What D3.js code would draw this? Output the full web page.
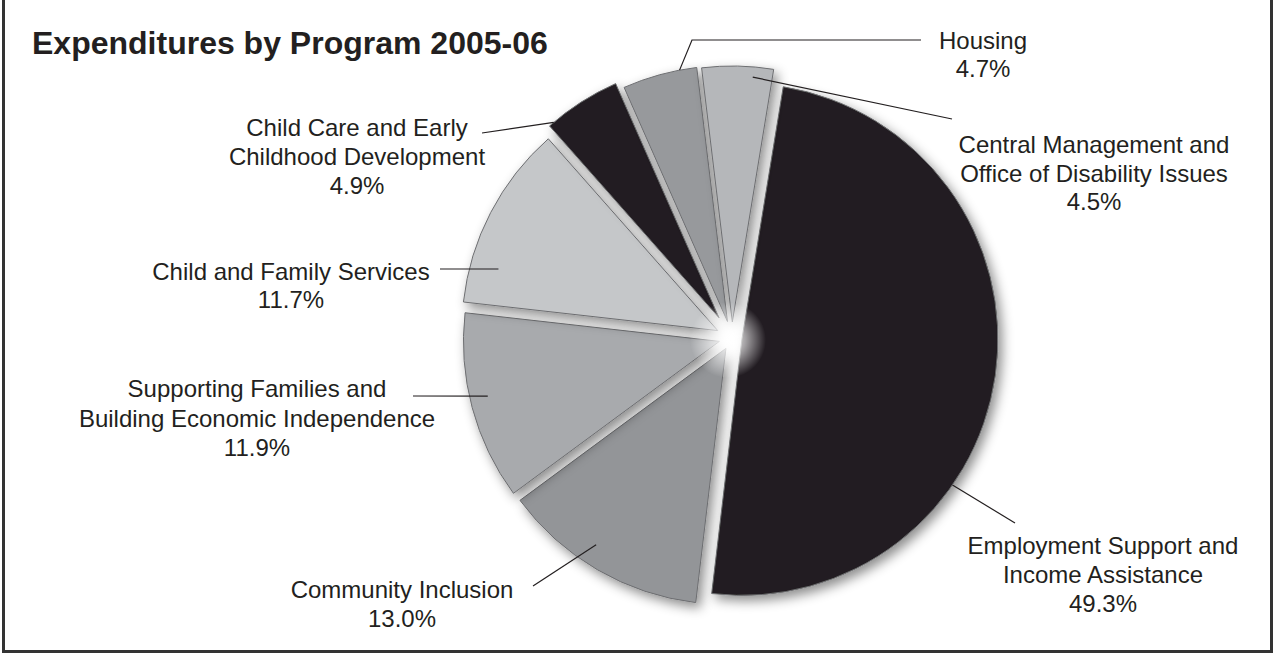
<!DOCTYPE html>
<html>
<head>
<meta charset="utf-8">
<script src="https://cdn.jsdelivr.net/npm/d3@7"></script>
<style>
  body { margin: 0; background: #fff; }
  svg { display: block; }
  text { font-family: "Liberation Sans", Arial, sans-serif; fill: #231f20; }
</style>
</head>
<body>
<div class="chart"></div>
<script>
// data, clockwise from the top
var programs = [
  ["Employment Support and", "Income Assistance"],
  ["Community Inclusion"],
  ["Supporting Families and", "Building Economic Independence"],
  ["Child and Family Services"],
  ["Child Care and Early", "Childhood Development"],
  ["Housing"],
  ["Central Management and", "Office of Disability Issues"]
];
var shares = [49.3, 13.0, 11.9, 11.7, 4.9, 4.7, 4.5];
var shareLabels = ["49.3%", "13.0%", "11.9%", "11.7%", "4.9%", "4.7%", "4.5%"];

// look of each slice
var fills = ["#231f20", "#939598", "#a8aaad", "#c5c7c9", "#231f20", "#97999c", "#b5b7ba"];
var explode = [10, 12, 13, 16, 24, 17, 16];

// label placement: text anchor, first baseline, line height,
// leader start (fraction along slice angle, fraction of radius), leader path
var labelLayout = [
  { x: 1103, y: 554, lh: 29,   t: 0.65, rf: 1.0,  path: [[1015, 523]] },
  { x: 402,  y: 598, lh: 29,   t: 0.57, rf: 0.92, path: [[533, 586]] },
  { x: 257,  y: 397, lh: 29.5, t: 0.54, rf: 0.93, path: [[413, 396]] },
  { x: 291,  y: 280, lh: 28,   t: 0.22, rf: 0.89, path: [[440, 269]] },
  { x: 357,  y: 136, lh: 29,   t: 0.07, rf: 1.0,  path: [[482, 133]] },
  { x: 983,  y: 49,  lh: 28,   t: 0.77, rf: 1.0,  path: [[692, 40], [921, 40]] },
  { x: 1094, y: 153, lh: 28.5, t: 0.72, rf: 0.96, path: [[952, 119]] }
];

var width = 1277, height = 655;
var cx = 732, cy = 338, radius = 256;
var startDeg = 9.3;

var svg = d3.select(".chart").append("svg")
    .attr("width", width)
    .attr("height", height);

var defs = svg.append("defs");

var shadow = defs.append("filter")
    .attr("id", "shadow")
    .attr("x", "-20%").attr("y", "-20%")
    .attr("width", "140%").attr("height", "140%");
shadow.append("feDropShadow")
    .attr("dx", 4).attr("dy", 5)
    .attr("stdDeviation", 6)
    .attr("flood-color", "#000")
    .attr("flood-opacity", 0.45);

var glow = defs.append("radialGradient").attr("id", "glow");
glow.append("stop").attr("offset", "0%").attr("stop-color", "#fff").attr("stop-opacity", 1);
glow.append("stop").attr("offset", "45%").attr("stop-color", "#fff").attr("stop-opacity", 0.6);
glow.append("stop").attr("offset", "100%").attr("stop-color", "#fff").attr("stop-opacity", 0);

// frame
svg.append("rect")
    .attr("x", 3.5)
    .attr("y", -10)
    .attr("width", 1268)
    .attr("height", 661.5)
    .attr("fill", "none")
    .attr("stroke", "#333")
    .attr("stroke-width", 3);

// title
svg.append("text")
    .attr("x", 32)
    .attr("y", 54)
    .style("font-size", "32px")
    .style("font-weight", "bold")
    .text("Expenditures by Program 2005-06");

var pie = d3.pie()
    .sort(null)
    .startAngle(startDeg * Math.PI / 180)
    .endAngle((startDeg + 360) * Math.PI / 180);

var arcs = pie(shares);

var arc = d3.arc()
    .innerRadius(0)
    .outerRadius(radius);

function offsetOf(d, i) {
  var mid = (d.startAngle + d.endAngle) / 2;
  return d3.pointRadial(mid, explode[i]);
}

var pieG = svg.append("g")
    .attr("transform", "translate(" + cx + "," + cy + ")");

pieG.selectAll("path.slice")
    .data(arcs)
    .enter().append("path")
    .attr("class", "slice")
    .attr("transform", function (d, i) {
      var o = offsetOf(d, i);
      return "translate(" + o[0] + "," + o[1] + ")";
    })
    .attr("d", arc)
    .attr("fill", function (d, i) { return fills[i]; })
    .attr("stroke", "#6d6e71")
    .attr("stroke-width", 1)
    .attr("stroke-linejoin", "round")
    .attr("filter", "url(#shadow)");

// white glow where the slices meet
pieG.append("circle")
    .attr("cx", -4)
    .attr("cy", 2)
    .attr("r", 38)
    .attr("fill", "url(#glow)");

// leader lines
var line = d3.line();
arcs.forEach(function (d, i) {
  var lay = labelLayout[i];
  var o = offsetOf(d, i);
  var a = d.startAngle + lay.t * (d.endAngle - d.startAngle);
  var p = d3.pointRadial(a, radius * lay.rf);
  var pts = [[cx + o[0] + p[0], cy + o[1] + p[1]]].concat(lay.path);
  svg.append("path")
      .attr("d", line(pts))
      .attr("fill", "none")
      .attr("stroke", "#231f20")
      .attr("stroke-width", 1.2);
});

// labels
arcs.forEach(function (d, i) {
  var lay = labelLayout[i];
  var lines = programs[i].concat([shareLabels[i]]);
  var t = svg.append("text")
      .attr("text-anchor", "middle")
      .style("font-size", "24px");
  lines.forEach(function (s, k) {
    t.append("tspan")
        .attr("x", lay.x)
        .attr("y", lay.y + k * lay.lh)
        .text(s);
  });
});
</script>
</body>
</html>
